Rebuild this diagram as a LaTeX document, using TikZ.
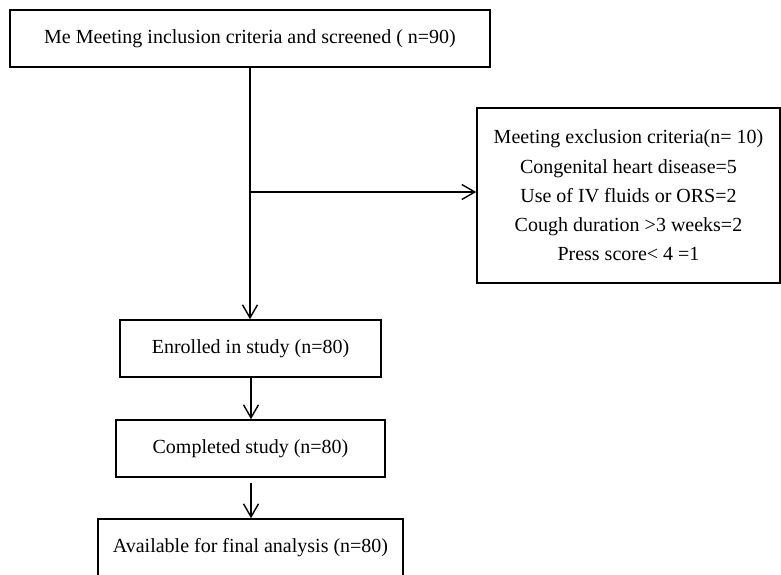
\documentclass[tikz,border=0pt]{standalone}
\usepackage{fontspec}
\setmainfont{Liberation Serif}
\usepackage{tikz}
\usetikzlibrary{arrows.meta}
\tikzstyle{process} = [rectangle, minimum height=57pt, inner sep=0pt, text centered, draw=black, line width=1.6pt, font=\fontsize{20}{29.3}\selectfont]
\tikzstyle{listbox} = [rectangle, minimum width=303pt, minimum height=175pt, inner sep=0pt, align=center, draw=black, line width=1.6pt, font=\fontsize{20}{29.3}\selectfont]
\tikzstyle{arrow} = [-{Straight Barb[length=13pt,width=15pt]}, line width=1.4pt]

\begin{document}
\begin{tikzpicture}[x=1pt, y=1pt, node distance=100pt]
\useasboundingbox (0,0) rectangle (781,-574);
%定义流程图具体形状
\node[process, minimum width=480pt] (screen) at (250,-38.5) {Me Meeting inclusion criteria and screened ( n=90)};
\node[listbox, right of = screen, xshift = 278.5pt, yshift = -157pt] (excl) {Meeting exclusion criteria(n= 10)\\Congenital heart disease=5\\Use of IV fluids or ORS=2\\Cough duration >3 weeks=2\\Press score< 4 =1};
\node[process, minimum width=261pt, below of = screen, xshift = 0.5pt, yshift = -210pt] (enrol) {Enrolled in study (n=80)};
\node[process, minimum width=269pt, below of = enrol] (done) {Completed study (n=80)};
\node[process, minimum width=305pt, below of = done, yshift = 1pt] (avail) {Available for final analysis (n=80)};
\coordinate (split) at ([yshift=3.5pt]screen.south |- excl.west);
%连接具体形状
\draw [arrow] (screen.south) -- (screen.south |- enrol.north);
\draw [arrow] (split) -- ([yshift=3.5pt]excl.west);
\draw [arrow] ([xshift=0.5pt]enrol.south) -- ([xshift=0.5pt]done.north);
\draw [arrow, shorten <= 5pt] ([xshift=0.5pt]done.south) -- ([xshift=0.5pt]avail.north);
\end{tikzpicture}
\end{document}
